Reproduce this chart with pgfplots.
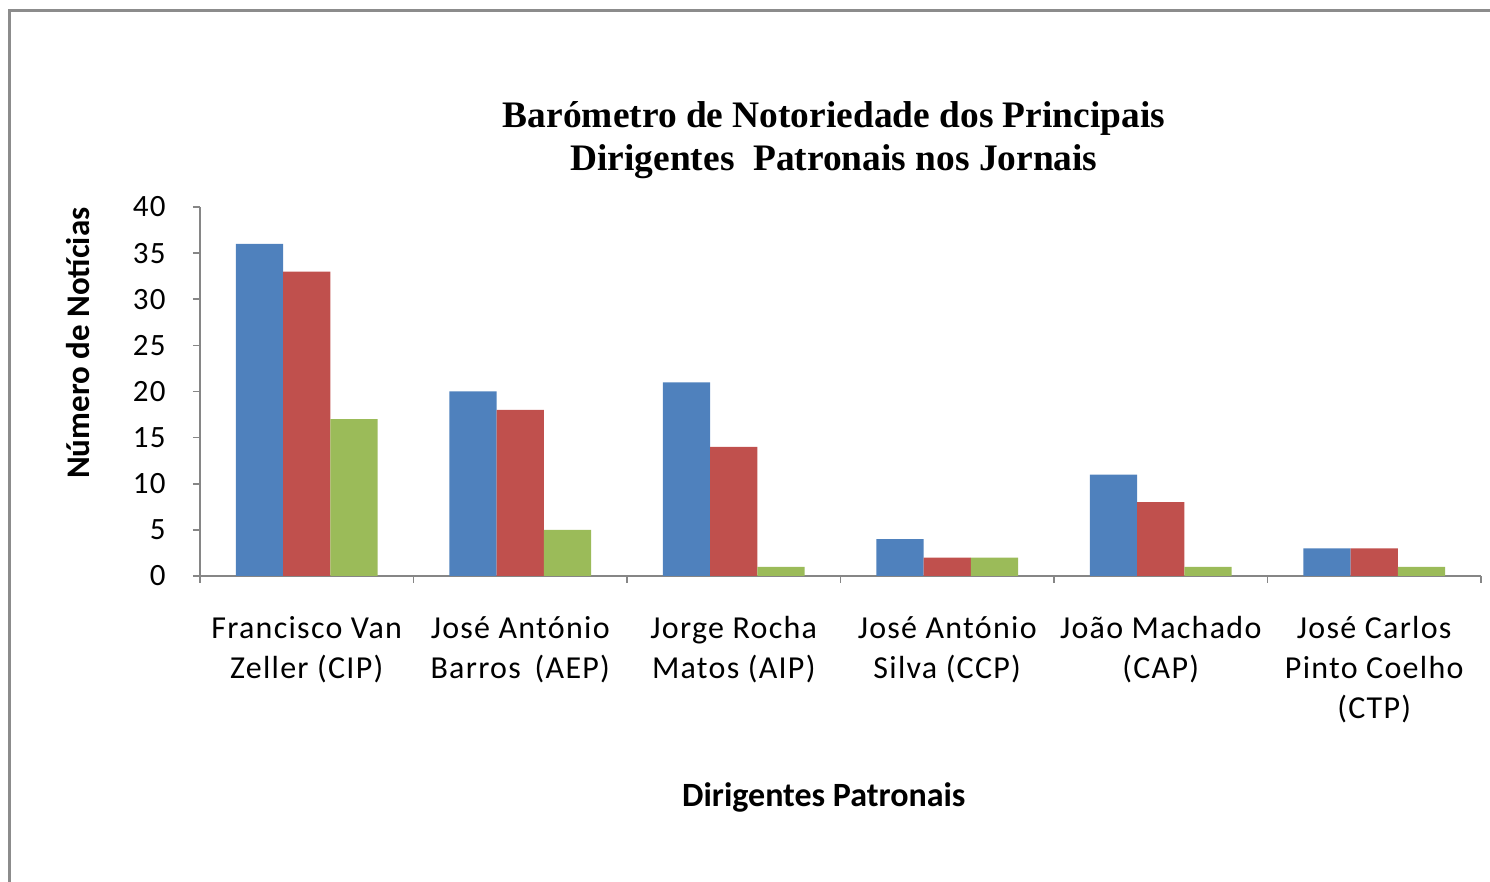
\documentclass[border=0pt]{standalone}
\usepackage{fontspec}
\setmainfont{Liberation Serif}
\newfontfamily\calfont[LetterSpace=4]{Carlito}
\newfontfamily\calbfont{Carlito}
\usepackage{pgfplots}
\pgfplotsset{compat=1.18}
\definecolor{barblue}{HTML}{4F81BD}
\definecolor{barred}{HTML}{C0504D}
\definecolor{bargreen}{HTML}{9BBB59}
\definecolor{axgray}{HTML}{868686}
\definecolor{framegray}{HTML}{8C8C8C}

\begin{document}
\begin{tikzpicture}
\useasboundingbox (-100pt,-153pt) rectangle (645pt,288pt);
\draw[framegray, line width=1.5pt] (-95pt,-200pt) -- (-95pt,282.5pt) -- (700pt,282.5pt);
\begin{axis}[
  at={(0,0)}, anchor=south west,
  scale only axis, width=640.5pt, height=184.5pt,
  ybar=0pt, bar width=0.2215,
  xmin=-0.5, xmax=5.5, ymin=0, ymax=40,
  axis lines*=left,
  axis line style={axgray, line width=0.8pt},
  tick align=outside,
  tick style={axgray, line width=0.8pt},
  major tick length=3.5pt, minor tick length=3.5pt,
  xtick={0,...,5},
  major x tick style={draw=none},
  minor xtick={-0.5,0.5,...,5.5},
  xticklabels={{Francisco Van\\Zeller (CIP)},{José António\\Barros\, (AEP)},{Jorge Rocha\\Matos (AIP)},{José António\\Silva (CCP)},{João Machado\\(CAP)},{José Carlos\\Pinto Coelho\\(CTP)}},
  xticklabel style={align=center, anchor=north, inner sep=0pt, yshift=-16.5pt,
    font=\calfont\fontsize{16}{20}\selectfont},
  ytick={0,5,...,40},
  /pgf/number format/assume math mode=true,
  yticklabel style={anchor=east, inner sep=0pt, xshift=-13.5pt,
    font=\calfont\fontsize{15.5}{18}\selectfont},
  xlabel={Dirigentes Patronais},
  xlabel style={at={(axis description cs:0.487,-0.599)}, anchor=center,
    font=\calbfont\bfseries\fontsize{17}{20}\selectfont},
  ylabel={Número de Notícias},
  ylabel style={at={(axis description cs:-0.0952,0.631)}, anchor=center,
    font=\calbfont\bfseries\fontsize{16.5}{20}\selectfont},
]
\addplot[fill=barblue, draw=none] coordinates {(0,36)(1,20)(2,21)(3,4)(4,11)(5,3)};
\addplot[fill=barred, draw=none] coordinates {(0,33)(1,18)(2,14)(3,2)(4,8)(5,3)};
\addplot[fill=bargreen, draw=none] coordinates {(0,17)(1,5)(2,1)(3,2)(4,1)(5,1)};
\end{axis}
\node[anchor=base, font=\bfseries\fontsize{18.7}{21.5}\selectfont]
  at (317pt,224pt) {Barómetro de Notoriedade dos Principais};
\node[anchor=base, font=\bfseries\fontsize{18.7}{21.5}\selectfont]
  at (317pt,202.5pt) {Dirigentes\ \ Patronais nos Jornais};
\end{tikzpicture}
\end{document}
